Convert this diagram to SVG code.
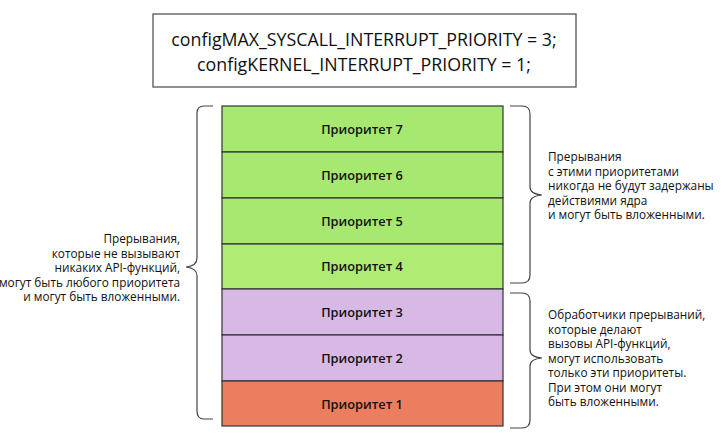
<svg xmlns="http://www.w3.org/2000/svg" width="728" height="437" viewBox="0 0 728 437">
<style>
.bg{fill:#ffffff}
.box{fill:#ffffff;stroke:#555;stroke-width:1.3}
.code{font-family:"Open Sans","Liberation Sans",sans-serif;font-size:17.8px;fill:#111;text-anchor:middle}
.row{stroke:#333;stroke-width:1.2}
.g{fill:#a6e870}
.g4{fill:#b0eb74}
.p{fill:#d8b9e5}
.r{fill:#eb7e5f}
.lbl{font-family:"Open Sans","Liberation Sans",sans-serif;font-size:12.8px;font-weight:600;fill:#111;text-anchor:middle}
.note{font-family:"Open Sans","Liberation Sans",sans-serif;font-size:11.8px;fill:#111}
.brace{fill:none;stroke:#444;stroke-width:1.2}
</style>
<rect class="bg" x="0" y="0" width="728" height="437"/>
<g id="config">
<rect class="box" x="153" y="14" width="423" height="73"/>
<text class="code" x="364" y="46">configMAX_SYSCALL_INTERRUPT_PRIORITY = 3;</text>
<text class="code" x="364" y="71">configKERNEL_INTERRUPT_PRIORITY = 1;</text>
</g>
<g id="p7"><rect class="row g" x="222" y="106" width="281" height="46"/><text class="lbl" x="362" y="134">Приоритет 7</text></g>
<g id="p6"><rect class="row g" x="222" y="152" width="281" height="46"/><text class="lbl" x="362" y="180">Приоритет 6</text></g>
<g id="p5"><rect class="row g" x="222" y="198" width="281" height="46"/><text class="lbl" x="362" y="226">Приоритет 5</text></g>
<g id="p4"><rect class="row g4" x="222" y="244" width="281" height="45"/><text class="lbl" x="362" y="271">Приоритет 4</text></g>
<g id="p3"><rect class="row p" x="222" y="289" width="281" height="46"/><text class="lbl" x="362" y="317">Приоритет 3</text></g>
<g id="p2"><rect class="row p" x="222" y="335" width="281" height="46"/><text class="lbl" x="362" y="363">Приоритет 2</text></g>
<g id="p1"><rect class="row r" x="222" y="381" width="281" height="45"/><text class="lbl" x="362" y="409">Приоритет 1</text></g>
<g id="connectors">
<path class="brace" d="M213,106 H204 Q197,106 197,113 V258 Q197,266 186,267 Q197,268 197,276 V411 Q197,419 204,419 H213"/>
<path class="brace" d="M510,106 H522 Q530,106 530,114 V187 Q530,194 542,195 Q530,196 530,203 V275 Q530,283 522,283 H510"/>
<path class="brace" d="M510,293 H522 Q530,293 530,301 V350 Q530,357 542,358 Q530,359 530,366 V420 Q530,428 522,428 H510"/>
</g>
<g id="note-left">
<text class="note" text-anchor="end" x="180" y="243">Прерывания,</text>
<text class="note" text-anchor="end" x="180" y="257.5">которые не вызывают</text>
<text class="note" text-anchor="end" x="180" y="272">никаких API-функций,</text>
<text class="note" text-anchor="end" x="180" y="286.5">могут быть любого приоритета</text>
<text class="note" text-anchor="end" x="180" y="301">и могут быть вложенными.</text>
</g>
<g id="note-right-top">
<text class="note" x="548" y="161">Прерывания</text>
<text class="note" x="548" y="175.5">с этими приоритетами</text>
<text class="note" x="548" y="190">никогда не будут задержаны</text>
<text class="note" x="548" y="204.5">действиями ядра</text>
<text class="note" x="548" y="219">и могут быть вложенными.</text>
</g>
<g id="note-right-bottom">
<text class="note" x="548" y="319">Обработчики прерываний,</text>
<text class="note" x="548" y="333.5">которые делают</text>
<text class="note" x="548" y="348">вызовы API-функций,</text>
<text class="note" x="548" y="362.5">могут использовать</text>
<text class="note" x="548" y="377">только эти приоритеты.</text>
<text class="note" x="548" y="391.5">При этом они могут</text>
<text class="note" x="548" y="406">быть вложенными.</text>
</g>
</svg>
